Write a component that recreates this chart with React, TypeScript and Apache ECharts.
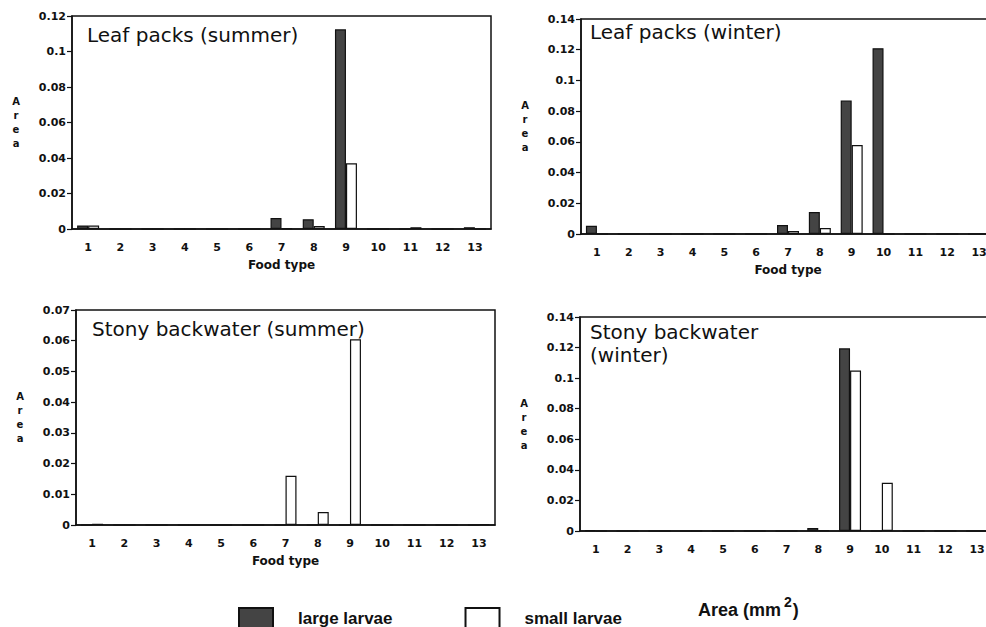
import React, { useEffect, useRef } from "react";
import * as echarts from "echarts";

const CATEGORIES = ["1", "2", "3", "4", "5", "6", "7", "8", "9", "10", "11", "12", "13"];

// Leaf packs (summer)
const LP_SUMMER_LARGE = [0.002, 0, 0, 0, 0, 0, 0.0062, 0.0055, 0.1125, 0, 0, 0, 0.001];
const LP_SUMMER_SMALL = [0.002, 0, 0, 0, 0, 0, 0.0005, 0.0017, 0.037, 0, 0.001, 0, 0];
// Leaf packs (winter)
const LP_WINTER_LARGE = [0.0054, 0, 0, 0, 0, 0, 0.0058, 0.0143, 0.087, 0.121, 0, 0, 0];
const LP_WINTER_SMALL = [0, 0, 0, 0, 0, 0, 0.002, 0.0039, 0.058, 0, 0, 0, 0];
// Stony backwater (summer)
const SB_SUMMER_LARGE = [0, 0, 0, 0, 0, 0, 0, 0, 0, 0, 0, 0, 0];
const SB_SUMMER_SMALL = [0.0004, 0, 0, 0, 0, 0, 0.016, 0.0042, 0.0605, 0, 0, 0, 0.0003];
// Stony backwater (winter)
const SB_WINTER_LARGE = [0.0005, 0, 0, 0, 0, 0, 0, 0.002, 0.1195, 0, 0, 0, 0];
const SB_WINTER_SMALL = [0, 0, 0, 0, 0, 0, 0, 0.0003, 0.105, 0.0316, 0, 0, 0];

const PANEL_TITLES = ["Leaf packs (summer)", "Leaf packs (winter)", "Stony backwater (summer)", "Stony backwater\n(winter)"];
const Y_MAX = [0.12, 0.14, 0.07, 0.14];
const Y_INTERVAL = [0.02, 0.02, 0.01, 0.02];
const X_NAMES = ["Food type", "Food type", "Food type", ""];
const SERIES_NAMES = ["large larvae", "small larvae"];

const LARGE = [LP_SUMMER_LARGE, LP_WINTER_LARGE, SB_SUMMER_LARGE, SB_WINTER_LARGE];
const SMALL = [LP_SUMMER_SMALL, LP_WINTER_SMALL, SB_SUMMER_SMALL, SB_WINTER_SMALL];

const GRIDS = [
  { left: 72, top: 16, width: 419, height: 213 },
  { left: 581, top: 19, width: 414, height: 215 },
  { left: 76, top: 310, width: 419, height: 215 },
  { left: 580, top: 317, width: 413, height: 214 },
];
const TITLE_POS = [
  { left: 87, top: 23 },
  { left: 590, top: 20 },
  { left: 92, top: 317 },
  { left: 590, top: 320 },
];

const INK = "#111";
const DARK = "#444";

export default function App() {
  const ref = useRef<HTMLDivElement>(null);
  useEffect(() => {
    if (!ref.current) return;
    const chart = echarts.init(ref.current, null, { renderer: "svg" });
    const fmt = (v: number) => String(+v.toFixed(3));
    const option: any = {
      animation: false,
      backgroundColor: "#fff",
      title: PANEL_TITLES.map((t, i) => ({
        text: t,
        left: TITLE_POS[i].left,
        top: TITLE_POS[i].top,
        padding: 0,
        textStyle: { fontFamily: "DejaVu Sans", fontSize: 20, fontWeight: "normal", color: INK, lineHeight: 23 },
      })),
      grid: GRIDS.map((g) => ({
        ...g,
        containLabel: false,
        outerBoundsMode: "none",
        show: true,
        borderColor: INK,
        borderWidth: 1.5,
        backgroundColor: "transparent",
      })),
      xAxis: GRIDS.map((_, i) => ({
        type: "category",
        gridIndex: i,
        data: CATEGORIES,
        name: X_NAMES[i],
        nameLocation: "middle",
        nameGap: 30,
        nameTextStyle: { fontFamily: "DejaVu Sans", fontWeight: "bold", fontSize: 12, color: INK },
        axisLine: { lineStyle: { color: INK, width: 1.5 } },
        axisTick: { alignWithLabel: true, length: 4, lineStyle: { color: INK, width: 1.2 } },
        axisLabel: { interval: 0, margin: 13, fontFamily: "DejaVu Sans", fontWeight: "bold", fontSize: 11, color: INK },
        splitLine: { show: false },
      })),
      yAxis: GRIDS.map((_, i) => ({
        type: "value",
        gridIndex: i,
        min: 0,
        max: Y_MAX[i],
        interval: Y_INTERVAL[i],
        name: "A\nr\ne\na",
        nameLocation: "middle",
        nameRotate: 0,
        nameGap: 56,
        nameTextStyle: { fontFamily: "DejaVu Sans", fontWeight: "bold", fontSize: 10, lineHeight: 14, color: INK, align: "center" },
        axisLine: { show: true, lineStyle: { color: INK, width: 1.5 } },
        axisTick: { show: true, length: 5, lineStyle: { color: INK, width: 1.2 } },
        axisLabel: { margin: 6, fontFamily: "DejaVu Sans", fontWeight: "bold", fontSize: 11, color: INK, formatter: fmt },
        splitLine: { show: false },
      })),
      legend: {
        left: 238,
        top: 607,
        padding: 0,
        itemWidth: 34,
        itemHeight: 20,
        itemGap: 72,
        icon: "rect",
        selectedMode: false,
        data: SERIES_NAMES,
        textStyle: { fontFamily: "Liberation Sans", fontWeight: "bold", fontSize: 17, color: INK, padding: [0, 0, 0, 20] },
      },
      graphic: [
        {
          type: "text",
          left: 698,
          top: 595,
          style: {
            text: "{a|Area (mm}{s|2}{a|)}",
            rich: {
              a: { fontFamily: "Liberation Sans", fontWeight: "bold", fontSize: 18, lineHeight: 30, fill: INK },
              s: { fontFamily: "Liberation Sans", fontWeight: "bold", fontSize: 14, lineHeight: 14, verticalAlign: "top", fill: INK, padding: [0, 1, 0, 3] },
            },
          },
        },
      ],
      series: GRIDS.flatMap((_, i) => [
        {
          name: SERIES_NAMES[0],
          type: "bar",
          xAxisIndex: i,
          yAxisIndex: i,
          data: LARGE[i],
          barWidth: 11,
          barGap: "0%",
          itemStyle: { color: DARK, borderColor: INK, borderWidth: 1.2 },
        },
        {
          name: SERIES_NAMES[1],
          type: "bar",
          xAxisIndex: i,
          yAxisIndex: i,
          data: SMALL[i],
          barWidth: 11,
          barGap: "0%",
          itemStyle: { color: "#fff", borderColor: INK, borderWidth: 1.2 },
        },
      ]),
    };
    chart.setOption(option);
    return () => chart.dispose();
  }, []);
  return <div ref={ref} style={{ position: "fixed", left: 0, top: 0, width: 986, height: 627, background: "#fff" }} />;
}
